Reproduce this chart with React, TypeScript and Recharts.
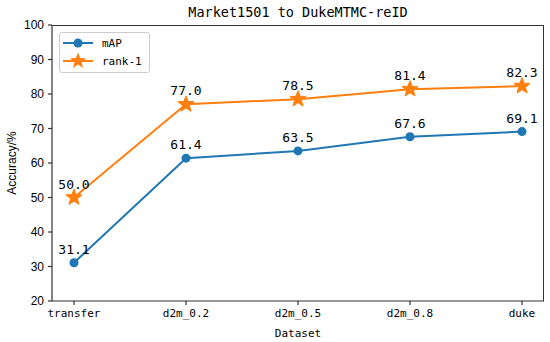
import React from 'react';
import { LabelList, Line, LineChart, XAxis, YAxis } from 'recharts';

const datasets = ['transfer', 'd2m_0.2', 'd2m_0.5', 'd2m_0.8', 'duke'];
const mapValues = [31.1, 61.4, 63.5, 67.6, 69.1];
const rank1Values = [50.0, 77.0, 78.5, 81.4, 82.3];
const yTicks = [20, 30, 40, 50, 60, 70, 80, 90, 100];

const BLUE = '#1f77b4';
const ORANGE = '#ff7f0e';
const MONO = '"DejaVu Sans Mono", "Liberation Mono", monospace';
const SANS = '"Liberation Sans", Arial, sans-serif';
const AXIS = '#333';

const data = datasets.map((name, i) => ({
  name,
  mAP: mapValues[i],
  rank1: rank1Values[i],
}));

function starPoints(cx: number, cy: number, outer: number, inner: number) {
  const pts: string[] = [];
  for (let i = 0; i < 10; i++) {
    const r = i % 2 === 0 ? outer : inner;
    const a = -Math.PI / 2 + (i * Math.PI) / 5;
    pts.push(`${cx + r * Math.cos(a)},${cy + r * Math.sin(a)}`);
  }
  return pts.join(' ');
}

const StarDot = (props: any) => {
  const { cx, cy, index } = props;
  if (cx == null || cy == null) return null;
  return (
    <polygon
      key={`star-${index}`}
      points={starPoints(cx, cy, 8.5, 3.6)}
      fill={ORANGE}
      stroke={ORANGE}
      strokeWidth={1}
    />
  );
};

const LegendBox = () => (
  <div
    style={{
      position: 'absolute',
      left: 59,
      top: 32,
      width: 91,
      height: 41,
      border: '1px solid #ccc',
      borderRadius: 3,
      background: 'rgba(255,255,255,0.8)',
      boxSizing: 'border-box',
    }}
  >
    <svg width={90} height={40} style={{ display: 'block' }}>
      <line x1={3} x2={33} y1={10} y2={10} stroke={BLUE} strokeWidth={2} />
      <circle cx={18} cy={10} r={4.5} fill={BLUE} />
      <text x={42} y={14} fontFamily={MONO} fontSize={11} fill="#000">
        mAP
      </text>
      <line x1={3} x2={33} y1={28} y2={28} stroke={ORANGE} strokeWidth={2} />
      <polygon points={starPoints(18, 28, 8.5, 3.6)} fill={ORANGE} />
      <text x={42} y={32} fontFamily={MONO} fontSize={11} fill="#000">
        rank-1
      </text>
    </svg>
  </div>
);

export default function App() {
  return (
    <div
      style={{
        position: 'absolute',
        left: 0,
        top: 0,
        width: 550,
        height: 342,
        background: '#fff',
      }}
    >
      <div
        style={{
          position: 'absolute',
          top: 4,
          left: 52,
          width: 492,
          textAlign: 'center',
          fontFamily: MONO,
          fontSize: 13.5,
          lineHeight: '16px',
          color: '#000',
        }}
      >
        Market1501 to DukeMTMC-reID
      </div>
      <LineChart
        width={550}
        height={342}
        data={data}
        margin={{ top: 25, right: 6, bottom: 0, left: 0 }}
      >
        <XAxis
          dataKey="name"
          padding={{ left: 22, right: 22 }}
          height={41}
          tickSize={4}
          tickMargin={4}
          stroke={AXIS}
          strokeWidth={1.2}
          tick={{ fill: '#000', fontFamily: MONO, fontSize: 11 }}
          interval={0}
          label={{
            value: 'Dataset',
            position: 'insideBottom',
            offset: 5,
            style: { fill: '#000', fontFamily: MONO, fontSize: 11 },
          }}
        />
        <YAxis
          domain={[20, 100]}
          ticks={yTicks}
          width={52}
          tickSize={4}
          tickMargin={4}
          stroke={AXIS}
          strokeWidth={1.2}
          tick={{ fill: '#000', fontFamily: SANS, fontSize: 12 }}
          label={{
            value: 'Accuracy/%',
            angle: -90,
            position: 'insideLeft',
            offset: 12,
            style: {
              fill: '#000',
              fontFamily: SANS,
              fontSize: 12,
              textAnchor: 'middle',
            },
          }}
        />
        <Line
          dataKey="mAP"
          name="mAP"
          stroke={BLUE}
          strokeWidth={2}
          isAnimationActive={false}
          dot={{ r: 4.5, fill: BLUE, stroke: BLUE, strokeWidth: 0 }}
          activeDot={false}
        >
          <LabelList
            dataKey="mAP"
            position="top"
            offset={9}
            formatter={(v: any) => Number(v).toFixed(1)}
            style={{ fill: '#000', fontFamily: MONO, fontSize: 13 }}
          />
        </Line>
        <Line
          dataKey="rank1"
          name="rank-1"
          stroke={ORANGE}
          strokeWidth={2}
          isAnimationActive={false}
          dot={<StarDot />}
          activeDot={false}
        >
          <LabelList
            dataKey="rank1"
            position="top"
            offset={9}
            formatter={(v: any) => Number(v).toFixed(1)}
            style={{ fill: '#000', fontFamily: MONO, fontSize: 13 }}
          />
        </Line>
      </LineChart>
      <div
        style={{
          position: 'absolute',
          left: 52,
          top: 25,
          width: 492,
          height: 276,
          borderTop: `1.2px solid ${AXIS}`,
          borderRight: `1.2px solid ${AXIS}`,
          boxSizing: 'border-box',
          pointerEvents: 'none',
        }}
      />
      <LegendBox />
    </div>
  );
}
